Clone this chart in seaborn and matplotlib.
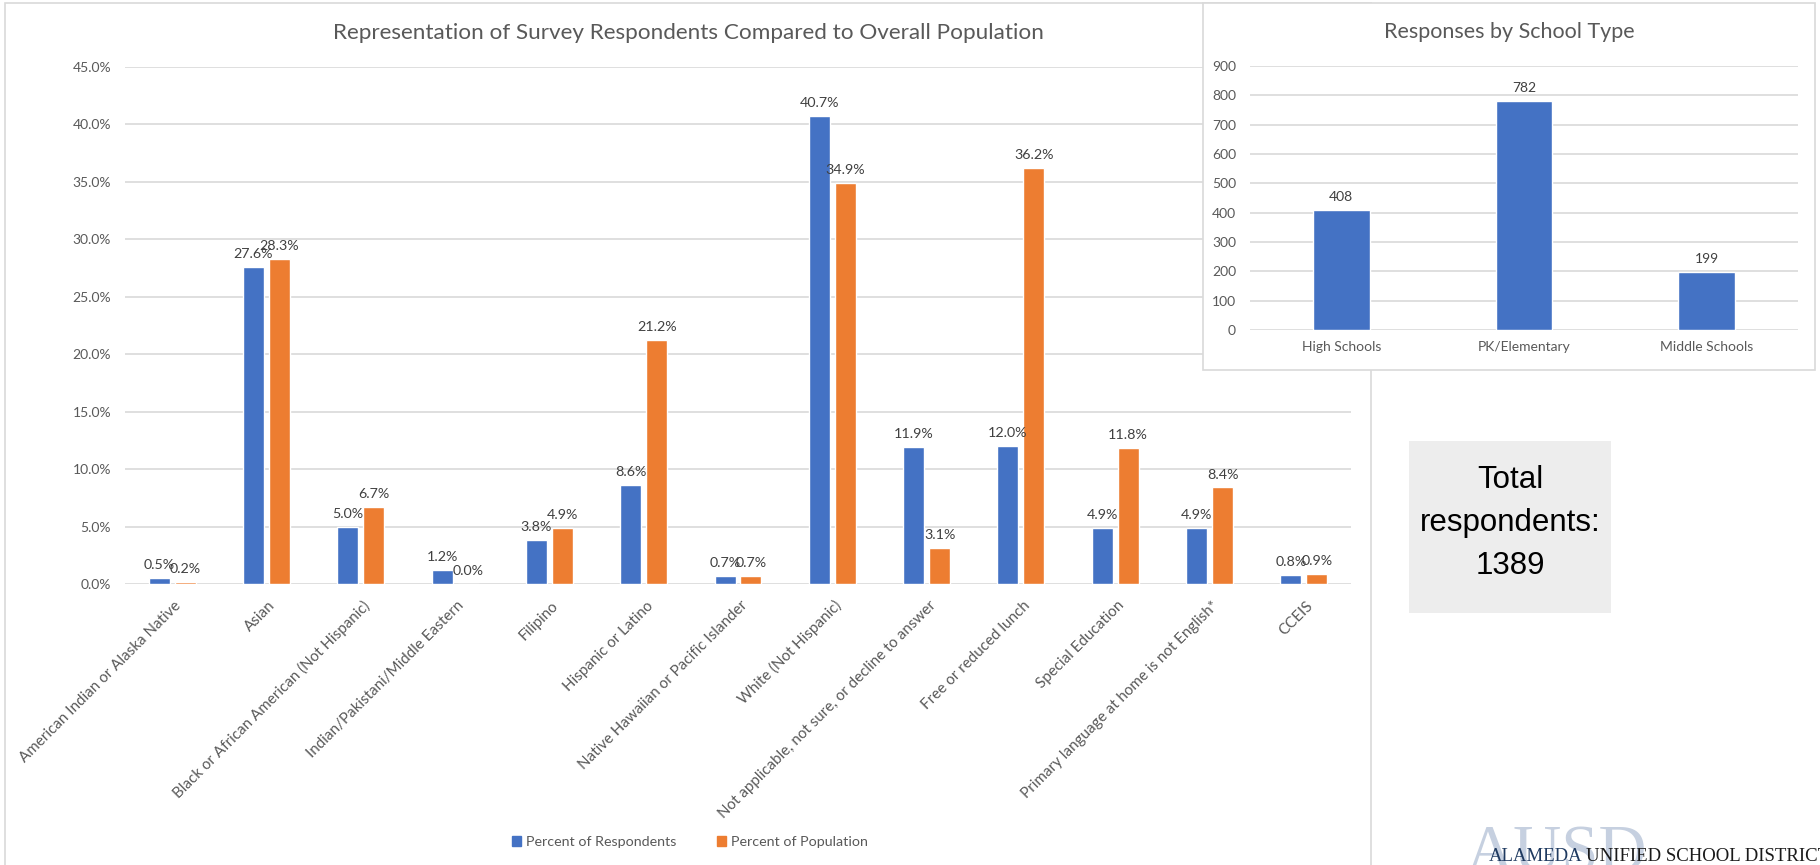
import matplotlib
matplotlib.use("Agg")
import matplotlib.pyplot as plt
from matplotlib.patches import Rectangle, Patch
from matplotlib.ticker import FuncFormatter, MultipleLocator
from matplotlib.transforms import ScaledTranslation
import seaborn as sns
import pandas as pd

# ---- data -------------------------------------------------------------
categories = [
    "American Indian or Alaska Native",
    "Asian",
    "Black or African American (Not Hispanic)",
    "Indian/Pakistani/Middle Eastern",
    "Filipino",
    "Hispanic or Latino",
    "Native Hawaiian or Pacific Islander",
    "White (Not Hispanic)",
    "Not applicable, not sure, or decline to answer",
    "Free or reduced lunch",
    "Special Education",
    "Primary language at home is not English*",
    "CCEIS",
]
pct_respondents = [0.5, 27.6, 5.0, 1.2, 3.8, 8.6, 0.7, 40.7, 11.9, 12.0, 4.9, 4.9, 0.8]
pct_population = [0.2, 28.3, 6.7, 0.0, 4.9, 21.2, 0.7, 34.9, 3.1, 36.2, 11.8, 8.4, 0.9]
series_names = ["Percent of Respondents", "Percent of Population"]

school_types = ["High Schools", "PK/Elementary", "Middle Schools"]
school_responses = [408, 782, 199]
total_respondents = 1389

# ---- style ------------------------------------------------------------
BLUE = "#4472C4"
ORANGE = "#ED7D31"
GRID = "#D9D9D9"
TEXT = "#595959"
LABEL = "#404040"

sns.set_style("white")
plt.rcParams["font.family"] = ["Lato", "DejaVu Sans"]

W, H = 1820, 865
fig = plt.figure(figsize=(W / 100, H / 100), dpi=100)


def fx(px):
    return px / W


def fy(py):
    return 1 - py / H


# outer frame of the main chart
fig.add_artist(Rectangle((fx(5), fy(900)), fx(1371) - fx(5), fy(3) - fy(900),
                         transform=fig.transFigure, fill=False,
                         edgecolor=GRID, linewidth=1.2, zorder=0.5))

# ---- main grouped bar chart ------------------------------------------
ax = fig.add_axes([fx(125), fy(584), fx(1351) - fx(125), fy(67) - fy(584)])
ax.set_facecolor("none")
df = pd.DataFrame({
    "category": categories * 2,
    "value": pct_respondents + pct_population,
    "series": [series_names[0]] * len(categories) + [series_names[1]] * len(categories),
})
sns.barplot(data=df, x="category", y="value", hue="series",
            palette=[BLUE, ORANGE], saturation=1, width=0.55, gap=0.19,
            legend=False, ax=ax, zorder=2)

for cont in ax.containers:
    ax.bar_label(cont, labels=[f"{v:.1f}%" for v in cont.datavalues],
                 padding=5, fontsize=10.3, color=LABEL)

ax.set_ylim(0, 45)
ax.yaxis.set_major_locator(MultipleLocator(5))
ax.yaxis.set_major_formatter(FuncFormatter(lambda v, _: f"{v:.1f}%"))
ax.grid(axis="y", color=GRID, linewidth=1.2, zorder=0)
ax.set_axisbelow(True)
for s in ax.spines.values():
    s.set_visible(False)
ax.set_xlabel("")
ax.set_ylabel("")
ax.set_xticks(range(len(categories)))
ax.set_xticklabels(categories, rotation=45, ha="right", va="center",
                   rotation_mode="anchor", fontsize=10.9)
ax.tick_params(axis="both", length=0, labelcolor=TEXT)
ax.tick_params(axis="y", pad=10, labelsize=10)
ax.tick_params(axis="x", pad=14)
shift = ScaledTranslation(7 / 100, 0, fig.dpi_scale_trans)
for lbl in ax.get_xticklabels():
    lbl.set_transform(lbl.get_transform() + shift)

fig.text(fx(688), fy(33), "Representation of Survey Respondents Compared to Overall Population",
         ha="center", va="center", fontsize=16.2, color=TEXT)

fig.legend(handles=[Patch(color=BLUE), Patch(color=ORANGE)], labels=series_names,
           loc="center", bbox_to_anchor=(fx(690), fy(842)), ncol=2, frameon=False,
           handlelength=0.65, handleheight=0.65, handletextpad=0.35,
           columnspacing=2.8, fontsize=10.3, labelcolor=TEXT)

# ---- inset: responses by school type ---------------------------------
fig.add_artist(Rectangle((fx(1203), fy(370)), fx(1815) - fx(1203), fy(3) - fy(370),
                         transform=fig.transFigure, facecolor="white",
                         edgecolor=GRID, linewidth=1.2, zorder=2))
ax2 = fig.add_axes([fx(1250), fy(330), fx(1798) - fx(1250), fy(66) - fy(330)], zorder=3)
ax2.set_facecolor("none")
sns.barplot(x=school_types, y=school_responses, color=BLUE, saturation=1,
            width=0.31, ax=ax2, zorder=2)
for cont in ax2.containers:
    ax2.bar_label(cont, labels=[f"{int(v)}" for v in cont.datavalues],
                  padding=5, fontsize=10, color=LABEL)
ax2.set_ylim(0, 900)
ax2.yaxis.set_major_locator(MultipleLocator(100))
ax2.grid(axis="y", color=GRID, linewidth=1.2, zorder=0)
ax2.set_axisbelow(True)
for s in ax2.spines.values():
    s.set_visible(False)
ax2.tick_params(axis="both", length=0, labelsize=10, labelcolor=TEXT)
ax2.tick_params(axis="y", pad=10)
ax2.tick_params(axis="x", pad=8)
fig.text(fx(1509), fy(32), "Responses by School Type", ha="center", va="center",
         fontsize=15.5, color=TEXT, zorder=4)

# ---- total respondents box ------------------------------------------
fig.add_artist(Rectangle((fx(1409), fy(613)), fx(1611) - fx(1409), fy(441) - fy(613),
                         transform=fig.transFigure, facecolor="#EDEDED",
                         edgecolor="none", zorder=2))
fig.text(fx(1510), fy(523), f"Total\nrespondents:\n{total_respondents}",
         ha="center", va="center", fontsize=22.5, linespacing=1.55,
         family=["Liberation Sans", "DejaVu Sans"], color="black", zorder=3)

# ---- district mark ----------------------------------------------------
fig.text(fx(1465), fy(872), "AUSD", ha="left", va="baseline", fontsize=48,
         family=["Liberation Serif", "DejaVu Serif"], color="#C6D0E0", zorder=3)
fig.text(fx(1489), fy(861), "ALAMEDA", ha="left", va="baseline", fontsize=13.5,
         family=["Liberation Serif", "DejaVu Serif"], color="#1F3A60", zorder=4)
fig.text(fx(1586), fy(861), "UNIFIED SCHOOL DISTRICT", ha="left", va="baseline",
         fontsize=13.5, family=["Liberation Serif", "DejaVu Serif"], color="#1A1A1A", zorder=4)

fig.savefig("out.png", dpi=100, facecolor="white")
